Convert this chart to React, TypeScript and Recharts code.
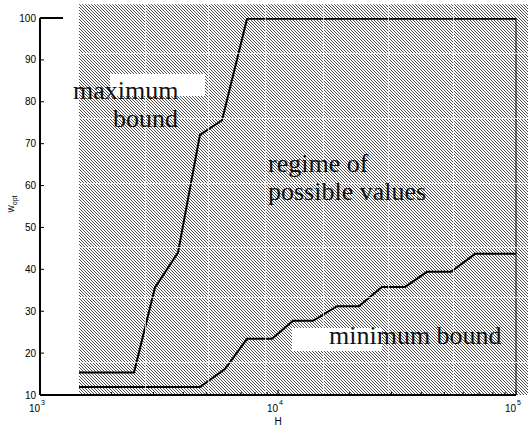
import React from 'react';
import { ComposedChart, Line, XAxis, YAxis, ReferenceArea, ReferenceLine } from 'recharts';

// H values at the corners of each bound
const maxH = [1458, 2483, 3040, 3800, 4700, 5820, 7410, 100000];
const maxW = [15.4, 15.4, 35.6, 44.0, 72.1, 75.6, 99.8, 99.8];

const minH = [1458, 4700, 5985, 7410, 9440, 11560, 14030, 17700, 21870, 27340, 34200, 42270, 53300, 67300, 100000];
const minW = [11.9, 11.9, 16.2, 23.4, 23.4, 27.7, 27.7, 31.2, 31.2, 35.8, 35.8, 39.4, 39.4, 43.7, 43.7];

const yTicks = [10, 20, 30, 40, 50, 60, 70, 80, 90, 100];
const xMajor = [1000, 10000, 100000];
const xMinor = [2000, 3000, 4000, 5000, 6000, 7000, 8000, 9000, 20000, 30000, 40000, 50000, 60000, 70000, 80000, 90000];

// hatched "regime" patch (runs past the axes box)
const regimeX = [1458, 120000];
const regimeY = [10, 103.3];

const maxData = maxH.map((h, i) => ({ h, w: maxW[i] }));
const minData = minH.map((h, i) => ({ h, w: minW[i] }));
const xTicks = [...xMajor, ...xMinor].sort((a, b) => a - b);

// white seams in the hatch pattern
const seamX = [145, 208, 265, 323, 388, 453];
const seamY = [53, 118, 183, 247, 297, 362];

const sans = '"Liberation Sans", Arial, sans-serif';
const serif = '"Liberation Serif", "Times New Roman", serif';

const XTick = (props: any) => {
  const { x, y, payload } = props;
  const v = payload.value;
  const major = xMajor.includes(v);
  return (
    <g>
      <line x1={x} x2={x} y1={y} y2={y - (major ? 5 : 3)} stroke="#000" />
      {major && (
        <text x={x} y={y + 17} textAnchor="end" fontSize={10} fontFamily={sans} fill="#000">10</text>
      )}
      {major && (
        <text x={x + 1} y={y + 10} textAnchor="start" fontSize={7} fontFamily={sans} fill="#000">
          {Math.round(Math.log10(v))}
        </text>
      )}
    </g>
  );
};

const YTick = (props: any) => {
  const { x, y, payload } = props;
  return (
    <g>
      <line x1={x} x2={x + 4} y1={y} y2={y} stroke="#000" />
      <text x={x - 4} y={y + 3.5} textAnchor="end" fontSize={10} fontFamily={sans} fill="#000">
        {payload.value}
      </text>
    </g>
  );
};

export default function App() {
  return (
    <div style={{ position: 'absolute', left: 0, top: 0, width: 528, height: 429, background: '#fff' }}>
      <ComposedChart width={528} height={429} margin={{ top: 18, right: 12, bottom: 0, left: 0 }}>
        <defs>
          <pattern id="hatch" patternUnits="userSpaceOnUse" width={3} height={3}>
            <rect width={3} height={3} fill="#fff" />
            <path d="M-1,2 L1,4 M0,0 L3,3 M2,-1 L4,1" stroke="#000" strokeWidth={0.7} />
          </pattern>
        </defs>
        <XAxis
          dataKey="h"
          type="number"
          scale="log"
          domain={[1000, 100000]}
          allowDataOverflow
          ticks={xTicks}
          tick={<XTick />}
          tickLine={false}
          tickSize={0}
          tickMargin={0}
          height={34}
          axisLine={{ stroke: '#000', strokeWidth: 2 }}
          interval={0}
        />
        <YAxis
          type="number"
          domain={[10, 100]}
          allowDataOverflow
          ticks={yTicks}
          tick={<YTick />}
          tickLine={false}
          tickSize={0}
          tickMargin={0}
          width={40}
          axisLine={{ stroke: '#000', strokeWidth: 2 }}
          interval={0}
        />
        <ReferenceArea
          x1={regimeX[0]}
          x2={regimeX[1]}
          y1={regimeY[0]}
          y2={regimeY[1]}
          ifOverflow="visible"
          fill="url(#hatch)"
          fillOpacity={1}
          stroke="none"
        />
        <ReferenceLine x={100000} stroke="#000" strokeWidth={1} />
        <ReferenceLine segment={[{ x: 1000, y: 100 }, { x: 1250, y: 100 }]} stroke="#000" strokeWidth={2} ifOverflow="visible" />
        <Line data={maxData} dataKey="w" type="linear" stroke="#000" strokeWidth={2} dot={false} isAnimationActive={false} />
        <Line data={minData} dataKey="w" type="linear" stroke="#000" strokeWidth={2} dot={false} isAnimationActive={false} />
      </ComposedChart>
      <svg width={528} height={429} style={{ position: 'absolute', left: 0, top: 0, pointerEvents: 'none' }}>
        {seamX.map((x) => (
          <rect key={'sx' + x} x={x} y={4} width={1} height={390} fill="#fff" opacity={0.75} />
        ))}
        {seamY.map((y) => (
          <rect key={'sy' + y} x={79} y={y} width={449} height={1} fill="#fff" opacity={0.75} />
        ))}
        <rect x={110} y={74} width={95} height={22} fill="#fff" />
        <rect x={292} y={328} width={90} height={23} fill="#fff" />
        <g fontFamily={serif} fontSize={26} fill="#111">
          <text x={73} y={99}>maximum</text>
          <text x={178} y={127} textAnchor="end">bound</text>
          <text x={268} y={172}>regime of</text>
          <text x={268} y={200}>possible values</text>
          <text x={329} y={344}>minimum bound</text>
        </g>
        <text x={278} y={425} textAnchor="middle" fontSize={10} fontFamily={sans} fill="#000">H</text>
        <text transform="rotate(-90, 14, 204)" x={14} y={204} textAnchor="middle" fontSize={10} fontFamily={sans} fill="#000">
          w<tspan dy={3} fontSize={7}>opt</tspan>
        </text>
      </svg>
    </div>
  );
}
